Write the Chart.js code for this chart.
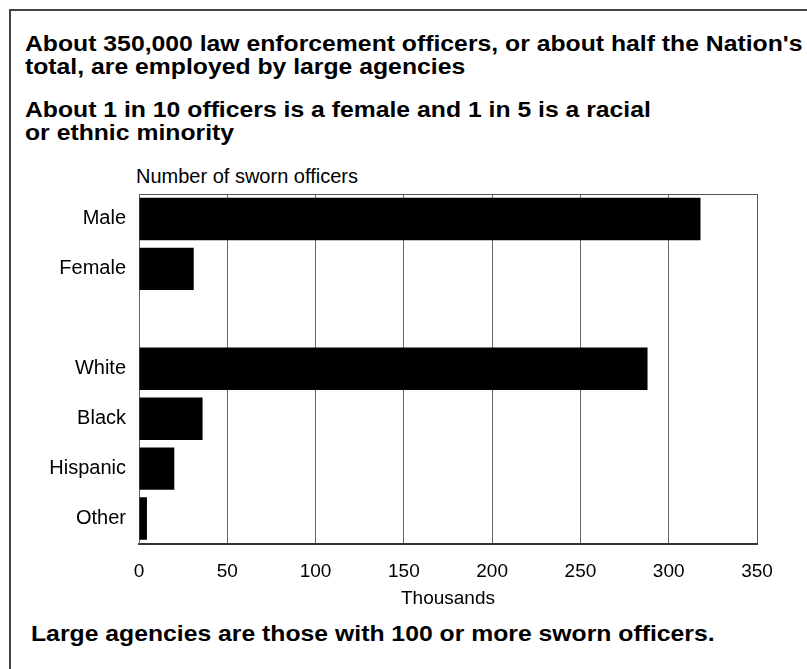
<!DOCTYPE html>
<html>
<head>
<meta charset="utf-8">
<script src="https://cdn.jsdelivr.net/npm/chart.js@4"></script>
<style>
  html, body { margin: 0; padding: 0; background: #fff; }
  body { width: 807px; height: 669px; position: relative; overflow: hidden; font-family: "Liberation Sans", Arial, sans-serif; color: #000; }
  .frame { position: absolute; left: 9px; top: 9px; right: -10px; bottom: -10px; border-left: 2px solid #444; border-top: 2px solid #444; }
  .txt { position: absolute; white-space: nowrap; transform-origin: 0 0; }
  .head { font-weight: bold; font-size: 22.5px; line-height: 22.7px; transform: scaleX(1.1); }
  .sub { font-size: 20px; line-height: 24px; }
  #wrap { position: absolute; left: 0; top: 0; width: 807px; height: 669px; }
</style>
</head>
<body>
<div class="frame"></div>
<div class="txt head" style="left:25px; top:33px;">About 350,000 law enforcement officers, or about half the Nation's<br>total, are employed by large agencies</div>
<div class="txt head" style="left:25px; top:99px;">About 1 in 10 officers is a female and 1 in 5 is a racial<br>or ethnic minority</div>
<div class="txt sub" style="left:136px; top:164px;">Number of sworn officers</div>
<div class="txt head" style="left:31px; top:623px;">Large agencies are those with 100 or more sworn officers.</div>
<div id="wrap"><canvas id="chart" width="807" height="669"></canvas></div>
<script>
// officers in thousands
const sexLabels = ["Male", "Female"];
const sexValues = [318, 31];
const raceLabels = ["White", "Black", "Hispanic", "Other"];
const raceValues = [288, 36, 20, 4.5];
const xTicks = [0, 50, 100, 150, 200, 250, 300, 350];

// blank row between the two groups
const labels = [...sexLabels, "", ...raceLabels];
const values = [...sexValues, null, ...raceValues];

const boxPlugin = {
  id: "box",
  afterDraw(chart) {
    const { ctx, chartArea: a } = chart;
    ctx.save();
    ctx.strokeStyle = "#555";
    ctx.lineWidth = 1;
    ctx.beginPath();
    ctx.moveTo(a.left, a.top + 0.5);
    ctx.lineTo(a.right + 0.5, a.top + 0.5);
    ctx.lineTo(a.right + 0.5, a.bottom);
    ctx.stroke();
    ctx.restore();
  },
};

const ctx = document.getElementById("chart").getContext("2d");
new Chart(ctx, {
  type: "bar",
  data: {
    labels: labels,
    datasets: [
      {
        data: values,
        backgroundColor: "#000",
        borderWidth: 0,
        barPercentage: 0.85,
        categoryPercentage: 1,
      },
    ],
  },
  options: {
    indexAxis: "y",
    responsive: false,
    animation: false,
    devicePixelRatio: 1,
    layout: { padding: { left: 0, top: 194, right: 50, bottom: 59 } },
    plugins: { legend: { display: false }, tooltip: { enabled: false } },
    scales: {
      x: {
        min: 0,
        max: 350,
        afterBuildTicks: (s) => { s.ticks = xTicks.map((v) => ({ value: v })); },
        afterFit: (s) => { s.height = 66.5; },
        grid: { color: "#666", lineWidth: 1, drawTicks: false },
        border: { color: "#333", width: 2 },
        ticks: { color: "#000", padding: 17, font: { family: "Liberation Sans", size: 19 } },
        title: {
          display: true,
          text: "Thousands",
          color: "#000",
          padding: { top: 4, bottom: 0 },
          font: { family: "Liberation Sans", size: 19 },
        },
      },
      y: {
        afterFit: (s) => { s.width = 139; },
        grid: { display: false, drawTicks: false },
        border: { color: "#666", width: 1 },
        ticks: { color: "#000", padding: 13, font: { family: "Liberation Sans", size: 20 } },
      },
    },
  },
  plugins: [boxPlugin],
});
</script>
</body>
</html>
